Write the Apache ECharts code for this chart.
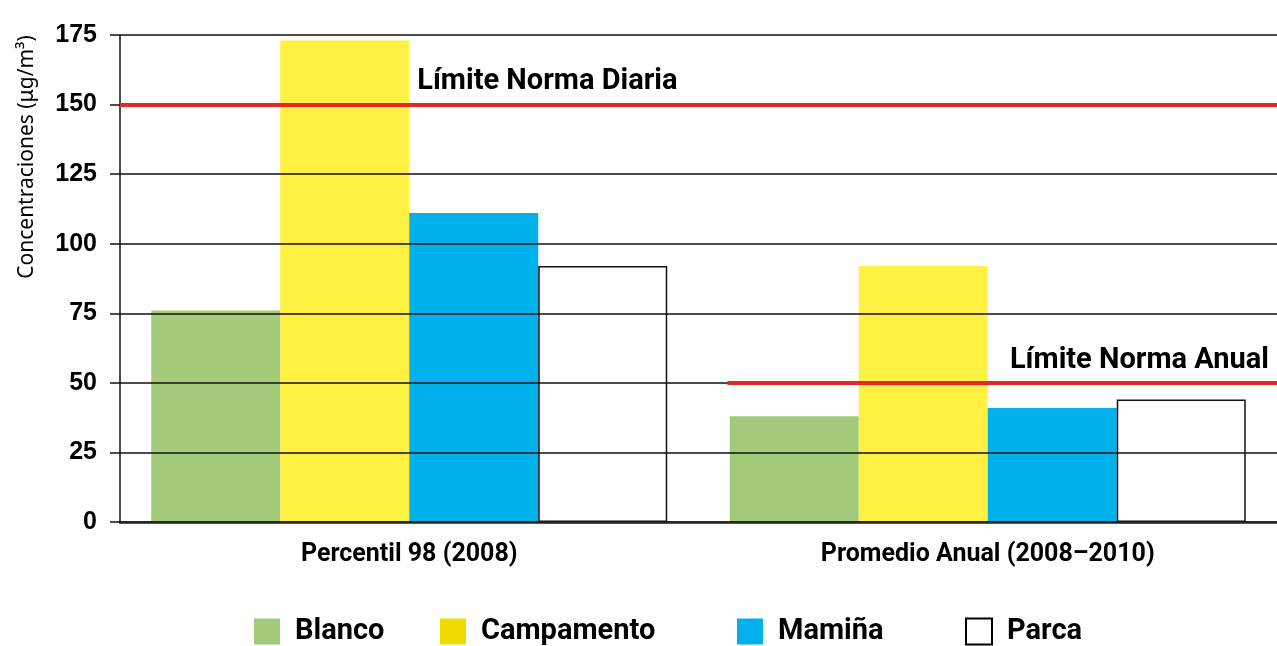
<!DOCTYPE html>
<html>
<head>
<meta charset="utf-8">
<script src="https://cdn.jsdelivr.net/npm/echarts@6/dist/echarts.min.js"></script>
<style>
  html, body { margin: 0; padding: 0; background: #fff; }
  #chart { width: 1277px; height: 646px; }
</style>
</head>
<body>
<div id="chart"></div>
<script>
var categories = ['Percentil 98 (2008)', 'Promedio Anual (2008–2010)'];
var blanco = [76, 38];
var campamento = [173, 92];
var mamina = [111, 41];
var parca = [92, 44];
var yTicks = [0, 25, 50, 75, 100, 125, 150, 175];
var limiteDiaria = 150;
var limiteAnual = 50;

var chartDom = document.getElementById('chart');
var myChart = echarts.init(chartDom);
var option;

var boldCond = 'Roboto';
var red = '#e3282a';

function bar(name, data, color, extra) {
    return {
        name: name,
        type: 'bar',
        data: data,
        barWidth: 129,
        barGap: '0%',
        z: 2,
        itemStyle: Object.assign({ color: color }, extra || {})
    };
}

// one legend block per item so each sits where the original has it
var legendItems = [
    { name: 'Blanco', left: 249 },
    { name: 'Campamento', left: 435, itemStyle: { color: '#f0dc00' } },
    { name: 'Mamiña', left: 732 },
    { name: 'Parca', left: 960, itemStyle: { color: '#fff', borderColor: '#000', borderWidth: 2 } }
];
var legends = legendItems.map(function (it) {
    var d = { name: it.name };
    if (it.itemStyle) d.itemStyle = it.itemStyle;
    return {
        left: it.left,
        top: 612,
        itemWidth: 26,
        itemHeight: 26,
        icon: 'rect',
        selectedMode: false,
        textStyle: {
            fontFamily: boldCond, fontWeight: 'bold', fontSize: 29, color: '#000',
            padding: [0, 0, 0, 10]
        },
        data: [d]
    };
});

option = {
    animation: false,
    grid: { left: 120, right: 0, top: 35, bottom: 124 },
    legend: legends,
    xAxis: [{
        type: 'category',
        data: categories,
        z: 3,
        axisLine: { lineStyle: { color: '#222', width: 2.5 } },
        axisTick: { show: false },
        axisLabel: {
            margin: 20,
            fontFamily: boldCond, fontWeight: 'bold', fontSize: 25, color: '#000'
        }
    }, {
        type: 'value',
        min: 0,
        max: 2,
        show: false
    }],
    yAxis: {
        type: 'value',
        min: 0,
        max: yTicks[yTicks.length - 1],
        interval: 25,
        z: 3,
        axisLine: { show: true, lineStyle: { color: '#111', width: 1.5 } },
        axisTick: { show: true, length: 10, lineStyle: { color: '#111', width: 1.5 } },
        splitLine: { lineStyle: { color: '#111', width: 1.5 } },
        axisLabel: {
            margin: 23,
            fontFamily: '"Liberation Sans", Arial', fontWeight: 'bold', fontSize: 25, color: '#000'
        }
    },
    graphic: [{
        type: 'text',
        x: 27,
        y: 157,
        rotation: Math.PI / 2,
        style: {
            text: 'Concentraciones (μg/m³)',
            fontFamily: '"Noto Sans"',
            fontSize: 21,
            fill: '#000',
            align: 'center',
            verticalAlign: 'middle'
        }
    }],
    series: [
        bar('Blanco', blanco, '#a2ca7a'),
        bar('Campamento', campamento, '#fff042'),
        bar('Mamiña', mamina, '#00b0ea'),
        bar('Parca', parca, '#fff', { borderColor: '#111', borderWidth: 1.5 }),
        {
            name: 'limites',
            type: 'line',
            xAxisIndex: 1,
            data: [],
            z: 6,
            silent: true,
            markLine: {
                symbol: 'none',
                silent: true,
                animation: false,
                lineStyle: { color: red, width: 4, type: 'solid' },
                label: {
                    color: '#000', fontFamily: boldCond, fontWeight: 'bold', fontSize: 29
                },
                data: [
                    [{ coord: [0, limiteDiaria], label: { show: false } }, { coord: [2, limiteDiaria] }],
                    [{ coord: [0.5, limiteDiaria], lineStyle: { color: 'rgba(0,0,0,0)', width: 0 },
                       label: { show: true, position: 'insideStartTop', distance: 8, formatter: 'Límite Norma Diaria' } },
                     { coord: [2, limiteDiaria] }],
                    [{ coord: [1.05, limiteAnual],
                       label: { show: true, position: 'insideEndTop', distance: 8, formatter: 'Límite Norma Anual' } },
                     { coord: [2, limiteAnual] }]
                ]
            }
        }
    ]
};

option && myChart.setOption(option);
</script>
</body>
</html>
